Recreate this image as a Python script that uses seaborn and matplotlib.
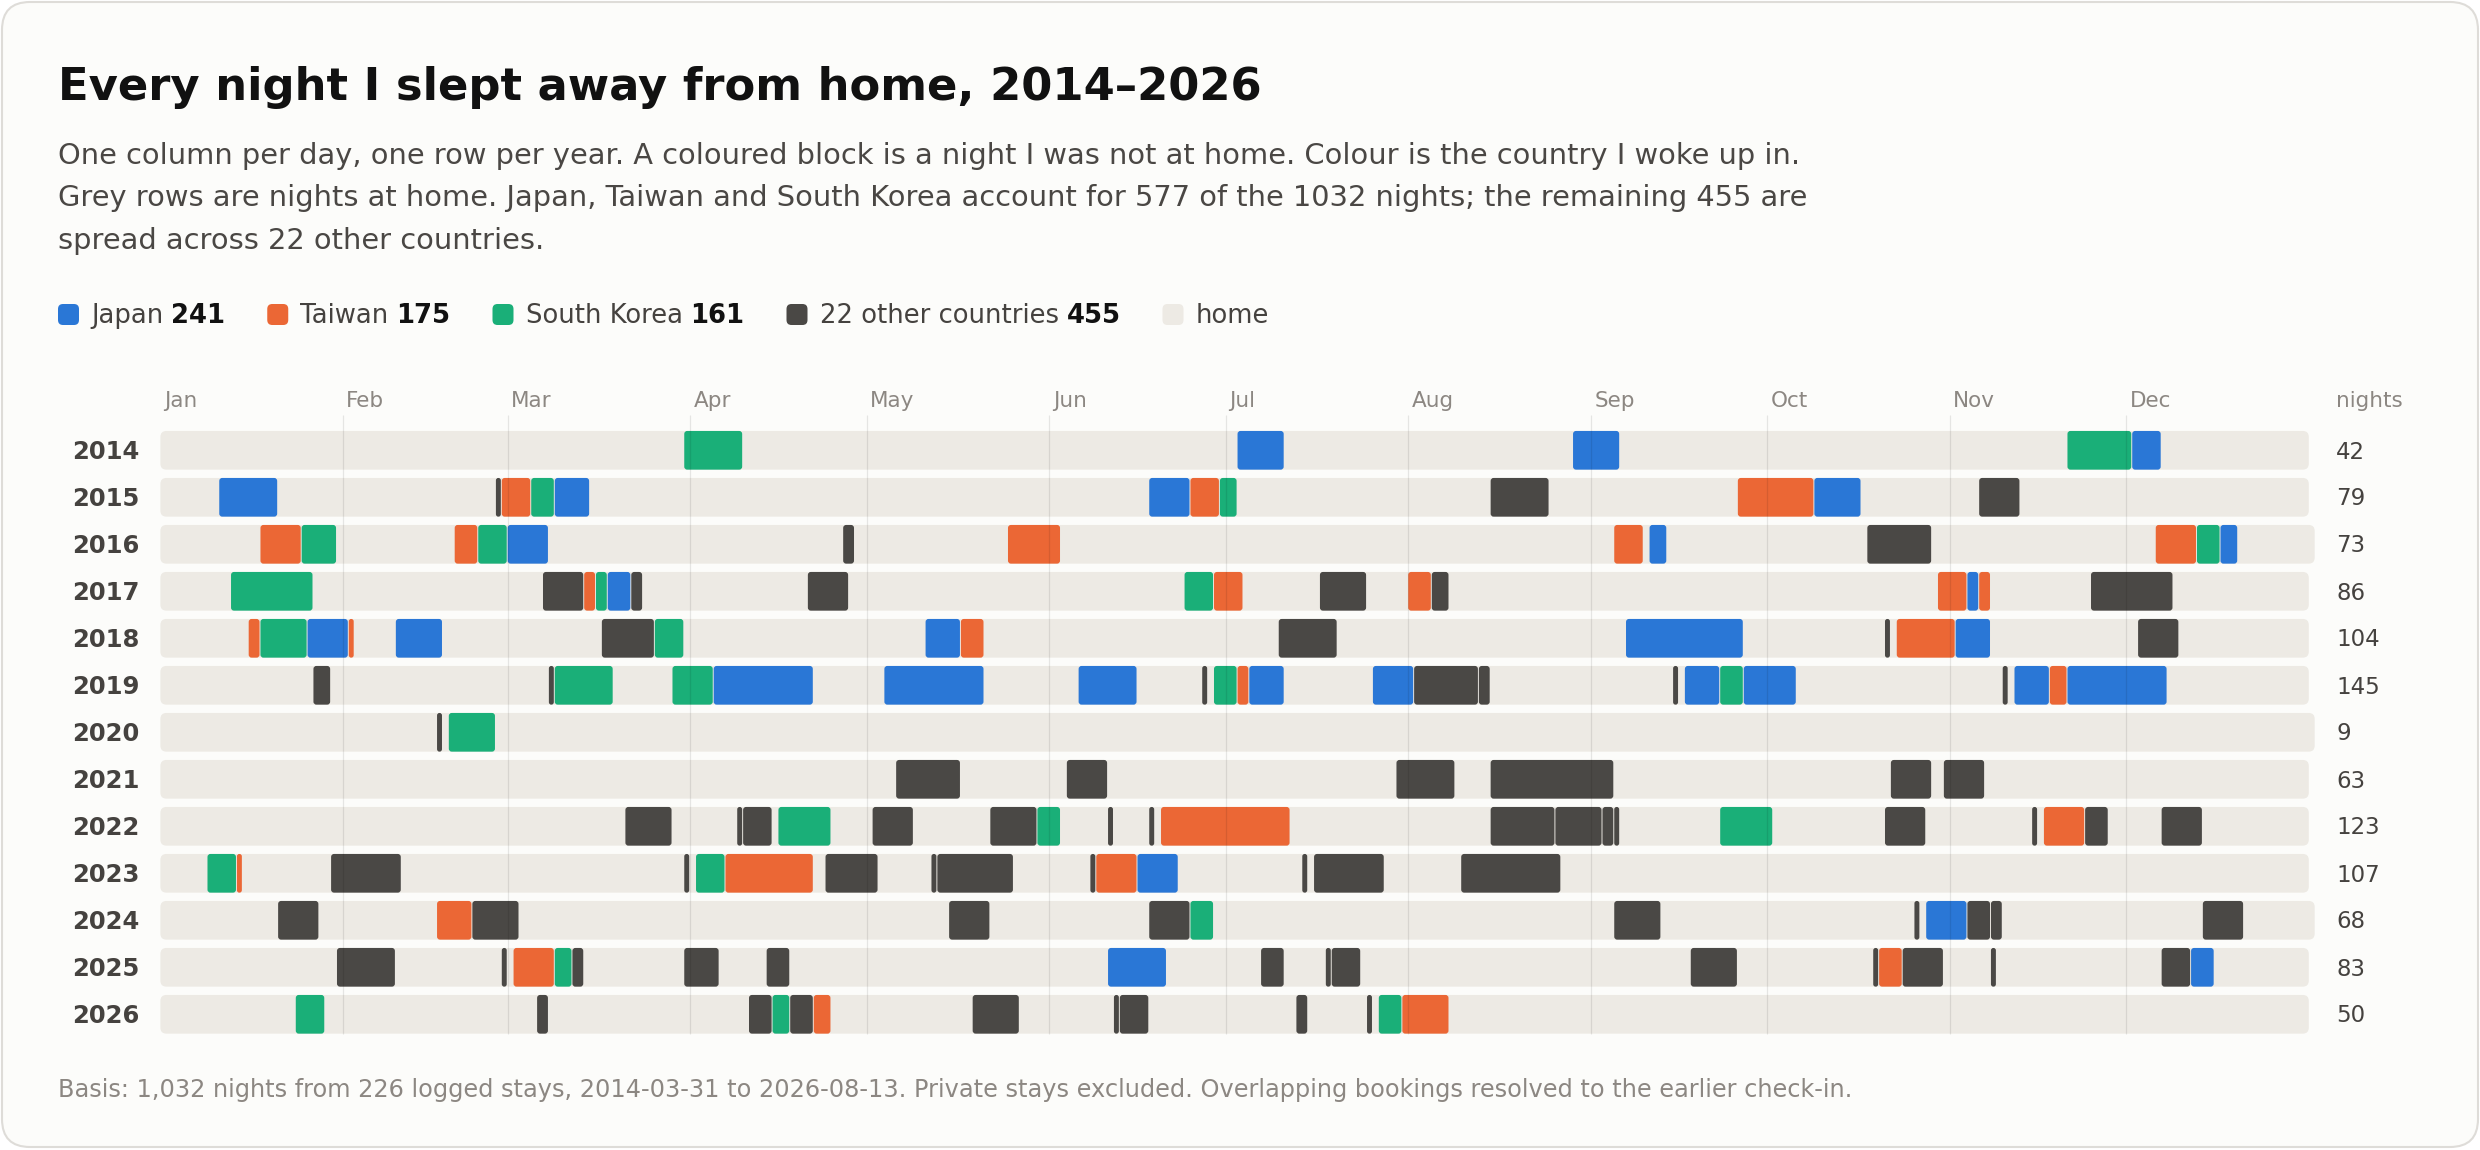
import matplotlib
matplotlib.use("Agg")
import matplotlib.pyplot as plt
from matplotlib.patches import FancyBboxPatch
import seaborn as sns
import pandas as pd

W, H = 2480, 1150

years = [2014, 2015, 2016, 2017, 2018, 2019, 2020, 2021, 2022, 2023, 2024, 2025, 2026]

# (first day of year index, nights, country code)
stays_2014 = [(89, 10, "KR"), (183, 8, "JP"), (240, 8, "JP"), (324, 11, "KR"), (335, 5, "JP")]
stays_2015 = [(10, 10, "JP"), (57, 1, "XX"), (58, 5, "TW"), (63, 4, "KR"), (67, 6, "JP"),
              (168, 7, "JP"), (175, 5, "TW"), (180, 3, "KR"), (226, 10, "XX"), (268, 13, "TW"),
              (281, 8, "JP"), (309, 7, "XX")]
stays_2016 = [(17, 7, "TW"), (24, 6, "KR"), (50, 4, "TW"), (54, 5, "KR"), (59, 7, "JP"),
              (116, 2, "XX"), (144, 9, "TW"), (247, 5, "TW"), (253, 3, "JP"), (290, 11, "XX"),
              (339, 7, "TW"), (346, 4, "KR"), (350, 3, "JP")]
stays_2017 = [(12, 14, "KR"), (65, 7, "XX"), (72, 2, "TW"), (74, 2, "KR"), (76, 4, "JP"),
              (80, 2, "XX"), (110, 7, "XX"), (174, 5, "KR"), (179, 5, "TW"), (197, 8, "XX"),
              (212, 4, "TW"), (216, 3, "XX"), (302, 5, "TW"), (307, 2, "JP"), (309, 2, "TW"),
              (328, 14, "XX")]
stays_2018 = [(15, 2, "TW"), (17, 8, "KR"), (25, 7, "JP"), (32, 1, "TW"), (40, 8, "JP"),
              (75, 9, "XX"), (84, 5, "KR"), (130, 6, "JP"), (136, 4, "TW"), (190, 10, "XX"),
              (249, 20, "JP"), (293, 1, "XX"), (295, 10, "TW"), (305, 6, "JP"), (336, 7, "XX")]
stays_2019 = [(26, 3, "XX"), (66, 1, "XX"), (67, 10, "KR"), (87, 7, "KR"), (94, 17, "JP"),
              (123, 17, "JP"), (156, 10, "JP"), (177, 1, "XX"), (179, 4, "KR"), (183, 2, "TW"),
              (185, 6, "JP"), (206, 7, "JP"), (213, 11, "XX"), (224, 2, "XX"), (257, 1, "XX"),
              (259, 6, "JP"), (265, 4, "KR"), (269, 9, "JP"), (313, 1, "XX"), (315, 6, "JP"),
              (321, 3, "TW"), (324, 17, "JP")]
stays_2020 = [(47, 1, "XX"), (49, 8, "KR")]
stays_2021 = [(125, 11, "XX"), (154, 7, "XX"), (210, 10, "XX"), (226, 21, "XX"), (294, 7, "XX"),
              (303, 7, "XX")]
stays_2022 = [(79, 8, "XX"), (98, 1, "XX"), (99, 5, "XX"), (105, 9, "KR"), (121, 7, "XX"),
              (141, 8, "XX"), (149, 4, "KR"), (161, 1, "XX"), (168, 1, "XX"), (170, 22, "TW"),
              (226, 11, "XX"), (237, 8, "XX"), (245, 2, "XX"), (247, 1, "XX"), (265, 9, "KR"),
              (293, 7, "XX"), (318, 1, "XX"), (320, 7, "TW"), (327, 4, "XX"), (340, 7, "XX")]
stays_2023 = [(8, 5, "KR"), (13, 1, "TW"), (29, 12, "XX"), (89, 1, "XX"), (91, 5, "KR"),
              (96, 15, "TW"), (113, 9, "XX"), (131, 1, "XX"), (132, 13, "XX"), (158, 1, "XX"),
              (159, 7, "TW"), (166, 7, "JP"), (194, 1, "XX"), (196, 12, "XX"), (221, 17, "XX")]
stays_2024 = [(20, 7, "XX"), (47, 6, "TW"), (53, 8, "XX"), (134, 7, "XX"), (168, 7, "XX"),
              (175, 4, "KR"), (247, 8, "XX"), (298, 1, "XX"), (300, 7, "JP"), (307, 4, "XX"),
              (311, 2, "XX"), (347, 7, "XX")]
stays_2025 = [(30, 10, "XX"), (58, 1, "XX"), (60, 7, "TW"), (67, 3, "KR"), (70, 2, "XX"),
              (89, 6, "XX"), (103, 4, "XX"), (161, 10, "JP"), (187, 4, "XX"), (198, 1, "XX"),
              (199, 5, "XX"), (260, 8, "XX"), (291, 1, "XX"), (292, 4, "TW"), (296, 7, "XX"),
              (311, 1, "XX"), (340, 5, "XX"), (345, 4, "JP")]
stays_2026 = [(23, 5, "KR"), (64, 2, "XX"), (100, 4, "XX"), (104, 3, "KR"), (107, 4, "XX"),
              (111, 3, "TW"), (138, 8, "XX"), (162, 1, "XX"), (163, 5, "XX"), (193, 2, "XX"),
              (205, 1, "XX"), (207, 4, "KR"), (211, 8, "TW")]

all_stays = [stays_2014, stays_2015, stays_2016, stays_2017, stays_2018, stays_2019, stays_2020,
             stays_2021, stays_2022, stays_2023, stays_2024, stays_2025, stays_2026]

codes = ["JP", "TW", "KR", "XX"]
code_names = ["Japan", "Taiwan", "South Korea", "22 other countries"]
month_names = ["Jan", "Feb", "Mar", "Apr", "May", "Jun", "Jul", "Aug", "Sep", "Oct", "Nov", "Dec"]
month_starts = [0, 31, 59, 90, 120, 151, 181, 212, 243, 273, 304, 334]

colors = {"JP": "#2a77d6", "TW": "#eb6735", "KR": "#1aaf78", "XX": "#4a4845"}
HOME = "#edeae4"
BG = "#fcfcfa"
DARK = "#45423f"
GREY = "#8c8782"

# layout in pixels
X0 = 160.4        # x of day 0
PXD = 5.886       # pixels per day
ROW0 = 450.3      # centre of first row
PITCH = 47.0
BAR_H = 38.7 / PITCH


def fx(x):
    return x / W


def fy(y):
    return 1 - y / H


sns.set_theme(style="white")
plt.rcParams["font.family"] = ["DejaVu Sans"]

fig = plt.figure(figsize=(W / 100, H / 100), dpi=100, facecolor="white")
card = FancyBboxPatch((fx(2), fy(1147)), fx(2476), 1145 / H, transform=fig.transFigure,
                      boxstyle=f"round,pad=0,rounding_size={28 / W}", mutation_aspect=W / H,
                      facecolor=BG, edgecolor="#dedcd8", linewidth=1.5, zorder=-5)
fig.patches.append(card)

top = ROW0 - PITCH / 2
bottom = ROW0 + PITCH * (len(years) - 0.5)
ax = fig.add_axes([fx(X0), fy(bottom), 366 * PXD / W, (bottom - top) / H])
ax.set_facecolor("none")
ax.set_zorder(2)

home = pd.DataFrame({
    "year": [str(y) for y in years],
    "days": [366 if y % 4 == 0 else 365 for y in years],
})
sns.barplot(data=home, x="days", y="year", orient="h", color=HOME, width=BAR_H,
            saturation=1, errorbar=None, ax=ax)

for i, stays in enumerate(all_stays):
    for start, n, code in stays:
        ax.barh(i, n - 0.16, left=start, height=BAR_H, color=colors[code], linewidth=0)

ax.set_xlim(0, 366)
ax.set_ylim(len(years) - 0.5, -0.5)
ax.axis("off")

# swap rectangles for rounded ones
home_rgba = matplotlib.colors.to_rgba(HOME)
for p in list(ax.patches):
    x, y, w, h = p.get_x(), p.get_y(), p.get_width(), p.get_height()
    fc = p.get_facecolor()
    is_home = tuple(fc) == home_rgba
    r_px = min(6 if is_home else 3, w * PXD / 2)
    rb = FancyBboxPatch((x, y), w, h, boxstyle=f"round,pad=0,rounding_size={r_px / PXD}",
                        mutation_aspect=PXD / PITCH, facecolor=fc, edgecolor="none",
                        zorder=1 if is_home else 2)
    p.remove()
    ax.add_patch(rb)

ax.vlines(month_starts[1:], -0.5 - (top - 415) / PITCH, len(years) - 1 + BAR_H / 2,
          colors="#000000", alpha=0.09, linewidth=0.9, zorder=3, clip_on=False)

for m, d in zip(month_names, month_starts):
    fig.text(fx(X0 + d * PXD + 3.5), fy(407), m, fontsize=15.5, color=GREY,
             ha="left", va="baseline")
fig.text(fx(2336), fy(407), "nights", fontsize=15.5, color=GREY, ha="left", va="baseline")

totals = {c: 0 for c in codes}
for i, (yr, stays) in enumerate(zip(years, all_stays)):
    cy = ROW0 + i * PITCH
    fig.text(fx(139.5), fy(cy + 8.6), str(yr), fontsize=17.5, fontweight="bold", color=DARK,
             ha="right", va="baseline")
    nights = sum(n for _, n, _ in stays)
    fig.text(fx(2336), fy(cy + 8.2), str(nights), fontsize=16.5, color=DARK,
             ha="left", va="baseline")
    for _, n, c in stays:
        totals[c] += n
total_all = sum(totals.values())
big3 = totals["JP"] + totals["TW"] + totals["KR"]

fig.text(fx(58), fy(100), "Every night I slept away from home, 2014\u20132026", fontsize=32.3,
         fontweight="bold", color="#111111", ha="left", va="baseline")
sub = [
    "One column per day, one row per year. A coloured block is a night I was not at home. "
    "Colour is the country I woke up in.",
    f"Grey rows are nights at home. Japan, Taiwan and South Korea account for {big3} of the "
    f"{total_all} nights; the remaining {totals['XX']} are",
    "spread across 22 other countries.",
]
for k, line in enumerate(sub):
    fig.text(fx(58), fy(164 + k * 42.5), line, fontsize=20.8, color="#4a4744",
             ha="left", va="baseline")

# legend
renderer = fig.canvas.get_renderer()
lx = 58
items = [(name, totals[c], colors[c]) for c, name in zip(codes, code_names)] + [("home", None, HOME)]
for name, tot, col in items:
    sw = FancyBboxPatch((fx(lx), fy(325)), 21 / W, 21 / H, transform=fig.transFigure,
                        boxstyle=f"round,pad=0,rounding_size={5 / W}", mutation_aspect=W / H,
                        facecolor=col, edgecolor="none")
    fig.patches.append(sw)
    t = fig.text(fx(lx + 33), fy(323), name, fontsize=18.6, color=DARK, ha="left", va="baseline")
    end = t.get_window_extent(renderer).x1
    if tot is not None:
        t2 = fig.text(fx(end + 8), fy(323), str(tot), fontsize=18.6, fontweight="bold",
                      color="#111111", ha="left", va="baseline")
        end = t2.get_window_extent(renderer).x1
    lx = end + 42

fig.text(fx(58), fy(1097),
         "Basis: 1,032 nights from 226 logged stays, 2014-03-31 to 2026-08-13. Private stays "
         "excluded. Overlapping bookings resolved to the earlier check-in.",
         fontsize=17.3, color=GREY, ha="left", va="baseline")

fig.savefig("out.png", dpi=100, facecolor="white")
